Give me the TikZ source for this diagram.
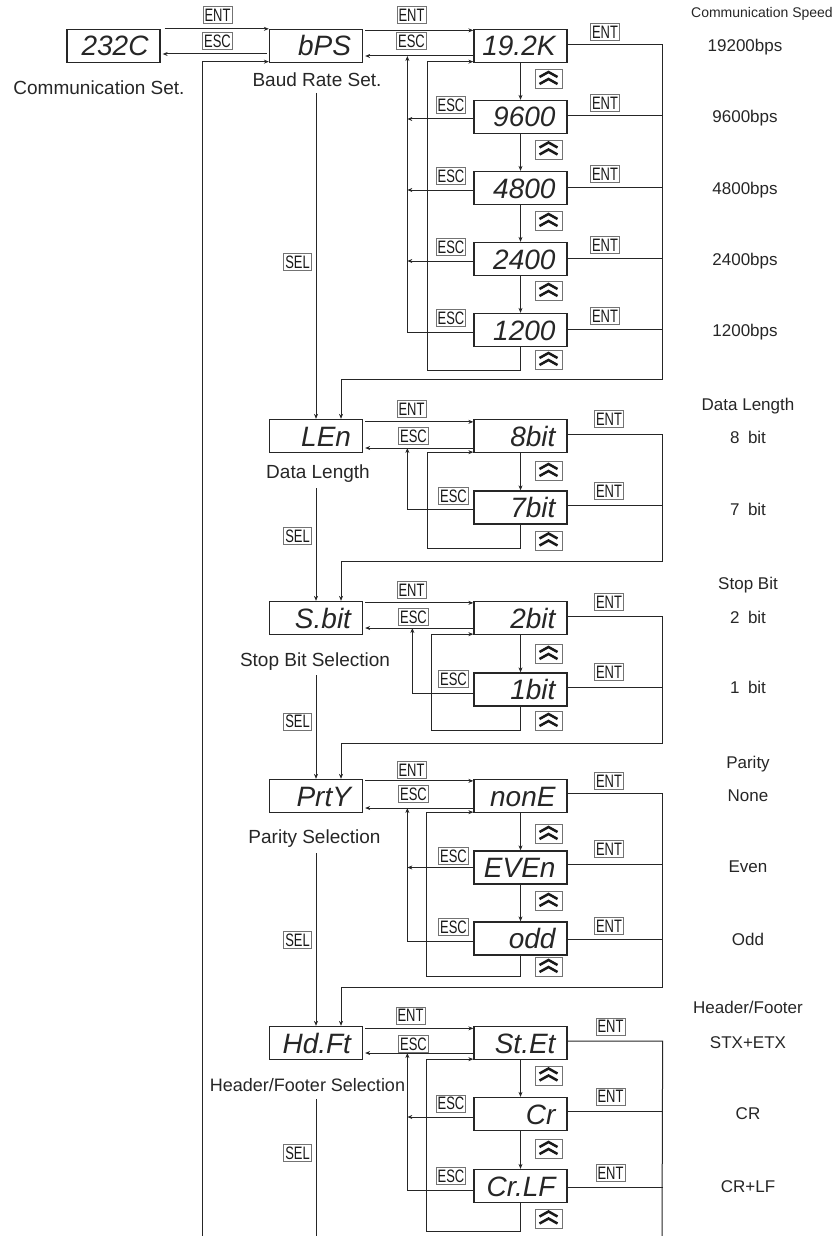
\documentclass[tikz,border=0pt]{standalone}
\usepackage{fontspec}
\setmainfont{Liberation Sans}
\newfontfamily\condfont[FakeStretch=0.72]{Liberation Sans}
\newfontfamily\segfont{Liberation Sans}
\usetikzlibrary{calc,arrows.meta}
\newcommand\dsp[1]{\makebox[70pt][r]{#1}}
\tikzset{
  disp/.style={draw=black!85, line width=1.3pt, minimum width=93pt, minimum height=33pt, inner sep=0pt,
     font=\segfont\itshape\fontsize{28}{28}\selectfont, text=black!85, text height=20pt, text depth=0pt},
  tag/.style={draw=black!55, line width=0.8pt, font=\condfont\fontsize{18}{18}\selectfont, text=black!90,
     inner xsep=1.5pt, inner ysep=2pt, text height=12.8pt, text depth=0pt},
  chevbox/.style={draw=black!55, line width=0.8pt, minimum width=27pt, minimum height=19pt, inner sep=0pt},
  chevline/.style={draw=black!90, line width=2.5pt, line join=miter},
  conn/.style={draw=black!85, line width=1pt},
  arr/.style={conn, -{Stealth[length=5pt,width=4pt]}},
  lbl/.style={font=\fontsize{19}{19}\selectfont, text=black!85, anchor=base, inner sep=0pt},
  rlbl/.style={font=\fontsize{17}{17}\selectfont, text=black!85, anchor=base, inner sep=0pt},
}
\newcommand\chevr[3]{%
  \node[chevbox] (#1) at (#2,#3) {};
  \draw[chevline] ($(#1.center)+(-9,-2)$) -- ($(#1.center)+(0,-7)$) -- ($(#1.center)+(9,-2)$);
  \draw[chevline] ($(#1.center)+(-9,5)$) -- ($(#1.center)+(0,0)$) -- ($(#1.center)+(9,5)$);}
\begin{document}
\begin{tikzpicture}[x=1pt,y=-1pt]
\useasboundingbox (0,0) rectangle (835,1236);
\coordinate (botL) at (202,1236);
\coordinate (botS) at (316,1236);
\coordinate (botR) at (662,1236);

% ---------- displays ----------
\node[disp] (c232) at (113.5,46) {\dsp{232C}};
\node[disp] (bps)  at (316,46)   {\dsp{bPS}};
\node[disp] (b1) at (520.5,46)  {\dsp{19.2K}};
\node[disp] (b2) at (520.5,117) {\dsp{9600}};
\node[disp] (b3) at (520.5,188) {\dsp{4800}};
\node[disp] (b4) at (520.5,259) {\dsp{2400}};
\node[disp] (b5) at (520.5,330) {\dsp{1200}};

\node[disp] (len) at (316,436)   {\dsp{LEn}};
\node[disp] (d1) at (520.5,436)  {\dsp{8bit}};
\node[disp] (d2) at (520.5,507.5){\dsp{7bit}};

\node[disp] (sbit) at (316,618)  {\dsp{S.bit}};
\node[disp] (s1) at (520.5,618)  {\dsp{2bit}};
\node[disp] (s2) at (520.5,689.5){\dsp{1bit}};

\node[disp] (prty) at (316,796)  {\dsp{PrtY}};
\node[disp] (p1) at (520.5,796)  {\dsp{nonE}};
\node[disp] (p2) at (520.5,867.5){\dsp{EVEn}};
\node[disp] (p3) at (520.5,938.5){\dsp{odd}};

\node[disp] (hdft) at (316,1043) {\dsp{Hd.Ft}};
\node[disp] (h1) at (520.5,1043) {\dsp{St.Et}};
\node[disp] (h2) at (520.5,1114) {\dsp{Cr}};
\node[disp] (h3) at (520.5,1186) {\dsp{Cr.LF}};

% ---------- labels ----------
\node[lbl] (lcom) at (99,95) {Communication Set.};
\node[lbl] (lbps) at (317,87) {Baud Rate Set.};
\node[lbl] (llen) at (318,478) {Data Length};
\node[lbl] (lsb)  at (315,666) {Stop Bit Selection};
\node[lbl] (lpr)  at (314.5,843) {Parity Selection};
\node[lbl, font=\fontsize{18}{18}\selectfont] (lhf)  at (307.5,1091) {Header/Footer Selection};

\node[font=\fontsize{14}{14}\selectfont, text=black!85, anchor=base east, inner sep=0pt] (rcs) at (833,18) {Communication Speed};
\node[rlbl] (r1) at (745,52)  {19200bps};
\node[rlbl] (r2) at (745,123) {9600bps};
\node[rlbl] (r3) at (745,194) {4800bps};
\node[rlbl] (r4) at (745,265) {2400bps};
\node[rlbl] (r5) at (745,336) {1200bps};
\node[rlbl] (rd)  at (748,410) {Data Length};
\node[rlbl] (rd1) at (748,443) {8\enspace bit};
\node[rlbl] (rd2) at (748,515) {7\enspace bit};
\node[rlbl] (rs)  at (748,589) {Stop Bit};
\node[rlbl] (rs1) at (748,623) {2\enspace bit};
\node[rlbl] (rs2) at (748,693) {1\enspace bit};
\node[rlbl] (rp)  at (748,768) {Parity};
\node[rlbl] (rp1) at (748,801) {None};
\node[rlbl] (rp2) at (748,872) {Even};
\node[rlbl] (rp3) at (748,945) {Odd};
\node[rlbl] (rh)  at (748,1013) {Header/Footer};
\node[rlbl] (rh1) at (748,1048) {STX+ETX};
\node[rlbl] (rh2) at (748,1119) {CR};
\node[rlbl] (rh3) at (748,1192) {CR+LF};

% ---------- key tags ----------
\node[tag] (t01) at (217.5,15) {ENT};
\node[tag] (t02) at (217.5,41) {ESC};
\node[tag] (t03) at (411.5,15) {ENT};
\node[tag] (t04) at (411.5,41) {ESC};
\node[tag] (tb1) at (605,32)  {ENT};
\node[tag] (tb2) at (605,103) {ENT};
\node[tag] (tb3) at (605,174) {ENT};
\node[tag] (tb4) at (605,245) {ENT};
\node[tag] (tb5) at (605,316) {ENT};
\node[tag] (eb2) at (451,105) {ESC};
\node[tag] (eb3) at (451,176) {ESC};
\node[tag] (eb4) at (451,247) {ESC};
\node[tag] (eb5) at (451,318) {ESC};
\node[tag] (sel1) at (297.5,262) {SEL};

\node[tag] (t05) at (411.5,409) {ENT};
\node[tag] (t06) at (413.5,436) {ESC};
\node[tag] (td1) at (609,419) {ENT};
\node[tag] (td2) at (609,491) {ENT};
\node[tag] (ed2) at (453.5,496) {ESC};
\node[tag] (sel2) at (297.5,536) {SEL};

\node[tag] (t07) at (411.5,590) {ENT};
\node[tag] (t08) at (413.5,617) {ESC};
\node[tag] (ts1) at (609,602) {ENT};
\node[tag] (ts2) at (609,672) {ENT};
\node[tag] (es2) at (453.5,679) {ESC};
\node[tag] (sel3) at (297.5,721.5) {SEL};

\node[tag] (t09) at (411.5,770) {ENT};
\node[tag] (t10) at (413.5,794) {ESC};
\node[tag] (tp1) at (609,781) {ENT};
\node[tag] (tp2) at (609,849) {ENT};
\node[tag] (tp3) at (609,926) {ENT};
\node[tag] (ep2) at (453.5,856) {ESC};
\node[tag] (ep3) at (453.5,927) {ESC};
\node[tag] (sel4) at (297.5,940) {SEL};

\node[tag] (t11) at (410.5,1015.5) {ENT};
\node[tag] (t12) at (413.5,1044) {ESC};
\node[tag] (th1) at (610.5,1026.5) {ENT};
\node[tag] (th2) at (610.5,1096.5) {ENT};
\node[tag] (th3) at (610.5,1173) {ENT};
\node[tag] (eh2) at (451,1103.5) {ESC};
\node[tag] (eh3) at (451,1176) {ESC};
\node[tag] (sel5) at (297.5,1153) {SEL};

% ---------- chevrons ----------
\chevr{cb1}{548.5}{79}
\chevr{cb2}{548.5}{149.5}
\chevr{cb3}{548.5}{221}
\chevr{cb4}{548.5}{291}
\chevr{cb5}{548.5}{360}
\chevr{cd1}{548.5}{471}
\chevr{cd2}{548.5}{540.5}
\chevr{cs1}{548.5}{654}
\chevr{cs2}{548.5}{721}
\chevr{cp1}{548.5}{834}
\chevr{cp2}{548.5}{901}
\chevr{cp3}{548.5}{967}
\chevr{ch1}{548.5}{1075.5}
\chevr{ch2}{548.5}{1149}
\chevr{ch3}{548.5}{1218.5}

% ---------- top row ----------
\draw[arr] ($(c232.north east)+(4,0)$) -- ($(bps.north west)+(0,0)$);
\draw[arr] ($(bps.west)+(-2,8)$) -- ($(c232.east)+(2,8)$);
\draw[arr] (botL) |- ($(bps.south west)+(0,-1.5)$);

% ---------- baud rate ----------
\draw[arr] ($(bps.north east)+(2,1.5)$) -- ($(b1.north west)+(0,1.5)$);
\draw[arr] ($(b1.west)+(0,10)$) -- ($(bps.east)+(2,10)$);
\foreach \a/\b in {b1/b2,b2/b3,b3/b4,b4/b5} \draw[arr] (\a.south) -- (\b.north);
\foreach \a in {b2,b3,b4} \draw[arr] ($(\a.west)+(0,2)$) -- ++(-66,0);
\draw[arr] ($(b5.west)+(0,2)$) -| ($(b1.west)+(-66,10)$);
\draw[arr] (b5.south) -- ++(0,23) -| ($(b1.south west)+(-46,-1.5)$) -- ($(b1.south west)+(0,-1.5)$);
\foreach \a in {b2,b3,b4,b5} \draw[conn] ($(\a.east)+(0,-1)$) -- ++(95,0);
\draw[arr] ($(b1.east)+(0,-1)$) -- ++(95,0) |- ($(len.north)+(25,-39)$) -- ($(len.north)+(25,0)$);
\draw[arr] (316,93) -- (len.north);

% ---------- data length ----------
\draw[arr] ($(len.north east)+(2,3)$) -- ($(d1.north west)+(0,3)$);
\draw[arr] ($(d1.west)+(0,12)$) -- ($(len.east)+(2,12)$);
\draw[arr] (d1.south) -- (d2.north);
\draw[arr] ($(d2.west)+(0,2)$) -| ($(d1.west)+(-66,12)$);
\draw[arr] (d2.south) -- ++(0,24) -| ($(d1.south west)+(-46,-1)$) -- ($(d1.south west)+(0,-1)$);
\draw[conn] ($(d2.east)+(0,-2)$) -- ++(95,0);
\draw[arr] ($(d1.east)+(0,-2)$) -- ++(95,0) |- ($(sbit.north)+(25,-39)$) -- ($(sbit.north)+(25,0)$);
\draw[arr] (316,488) -- (sbit.north);

% ---------- stop bit ----------
\draw[arr] ($(sbit.north east)+(2,2)$) -- ($(s1.north west)+(0,2)$);
\draw[arr] ($(s1.west)+(0,10)$) -- ($(sbit.east)+(2,10)$);
\draw[arr] (s1.south) -- (s2.north);
\draw[arr] ($(s2.west)+(0,4)$) -| ($(s1.west)+(-61,10)$);
\draw[arr] (s2.south) -- ++(0,24) -| ($(s1.south west)+(-42,-1)$) -- ($(s1.south west)+(0,-1)$);
\draw[conn] ($(s2.east)+(0,-2)$) -- ++(95,0);
\draw[arr] ($(s1.east)+(0,-2)$) -- ++(95,0) |- ($(prty.north)+(25,-35.5)$) -- ($(prty.north)+(25,0)$);
\draw[arr] (316,675) -- (prty.north);

% ---------- parity ----------
\draw[arr] ($(prty.north east)+(2,2)$) -- ($(p1.north west)+(0,2)$);
\draw[arr] ($(p1.west)+(0,12)$) -- ($(prty.east)+(2,12)$);
\draw[arr] (p1.south) -- (p2.north);
\draw[arr] (p2.south) -- (p3.north);
\draw[arr] ($(p2.west)+(0,0)$) -- ++(-66,0);
\draw[arr] ($(p3.west)+(0,3)$) -| ($(p1.west)+(-66,12)$);
\draw[arr] (p3.south) -- ++(0,21) -| ($(p1.south west)+(-47,-1)$) -- ($(p1.south west)+(0,-1)$);
\draw[conn] ($(p2.east)+(0,-3)$) -- ++(95,0);
\draw[conn] ($(p3.east)+(0,1)$) -- ++(95,0);
\draw[arr] ($(p1.east)+(0,-3)$) -- ++(95,0) |- ($(hdft.north)+(25,-38.5)$) -- ($(hdft.north)+(25,0)$);
\draw[arr] (316,853) -- (hdft.north);

% ---------- header/footer ----------
\draw[arr] ($(hdft.north east)+(2,2.5)$) -- ($(h1.north west)+(0,2.5)$);
\draw[arr] ($(h1.west)+(0,10)$) -- ($(hdft.east)+(2,10)$);
\draw[arr] (h1.south) -- (h2.north);
\draw[arr] (h2.south) -- (h3.north);
\draw[arr] ($(h2.west)+(0,3)$) -- ++(-66,0);
\draw[arr] ($(h3.west)+(0,4)$) -| ($(h1.west)+(-66,10)$);
\draw[arr] (h3.south) -- ++(0,28) -| ($(h1.south west)+(-47,-1)$) -- ($(h1.south west)+(0,-1)$);
\draw[conn] ($(h2.east)+(0,-3)$) -- ++(95,0);
\draw[conn] ($(h3.east)+(0,1)$) -- ++(95,0);
\draw[conn] ($(h1.east)+(0,-2)$) -- ++(95,0) -- (botR);
\draw[conn] (316,1099) -- (botS);
\end{tikzpicture}
\end{document}
